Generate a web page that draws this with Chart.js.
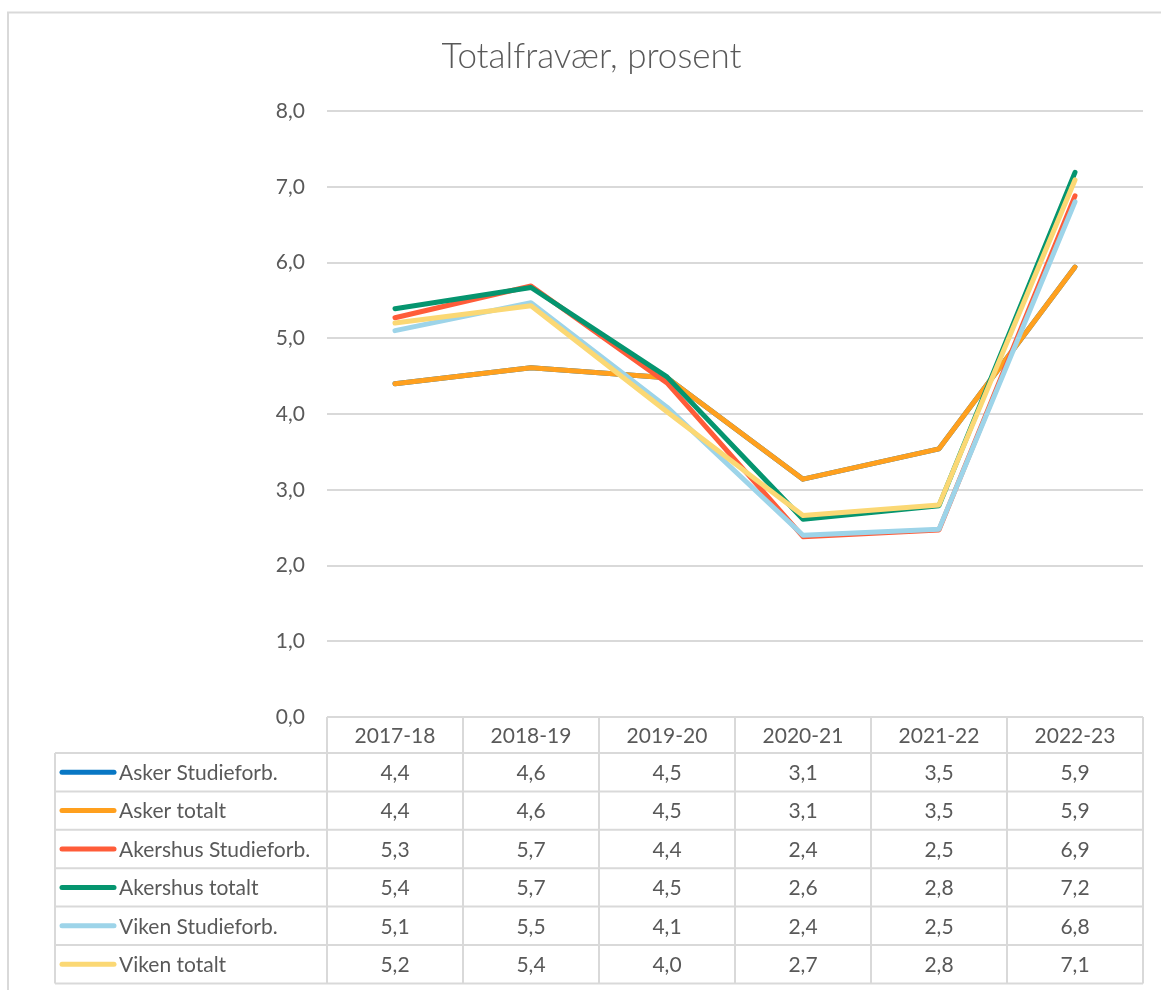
<!DOCTYPE html>
<html>
<head>
<meta charset="utf-8">
<script src="https://cdn.jsdelivr.net/npm/chart.js@4/dist/chart.umd.min.js"></script>
<style>
html, body { margin: 0; padding: 0; background: #ffffff; }
#wrap { width: 1161px; height: 990px; position: relative; }
</style>
</head>
<body>
<div id="wrap"><canvas id="c" width="1161" height="990"></canvas></div>
<script>
// ---- data ----
const categories = ['2017-18', '2018-19', '2019-20', '2020-21', '2021-22', '2022-23'];
const seriesNames = ['Asker Studieforb.', 'Asker totalt', 'Akershus Studieforb.', 'Akershus totalt', 'Viken Studieforb.', 'Viken totalt'];
const askerStudieforb = [4.40, 4.61, 4.48, 3.14, 3.54, 5.94];
const askerTotalt     = [4.40, 4.61, 4.48, 3.14, 3.54, 5.94];
const akershusStudieforb = [5.27, 5.69, 4.41, 2.38, 2.47, 6.88];
const akershusTotalt  = [5.39, 5.67, 4.49, 2.61, 2.79, 7.19];
const vikenStudieforb = [5.10, 5.47, 4.09, 2.40, 2.48, 6.80];
const vikenTotalt     = [5.20, 5.43, 4.03, 2.66, 2.80, 7.09];
const yTicks = [0, 1, 2, 3, 4, 5, 6, 7, 8];

// ---- styles ----
const seriesColors = ['#0877C4', '#FFA01E', '#FF5C39', '#05956F', '#9DD4E9', '#FBD874'];
const seriesValues = [askerStudieforb, askerTotalt, akershusStudieforb, akershusTotalt, vikenStudieforb, vikenTotalt];
const textColor = '#595959';
const lineGray = '#d9d9d9';
const fontFamily = 'Lato, "Open Sans", sans-serif';
const fmt = v => v.toFixed(1).replace('.', ',');

const datasets = seriesNames.map((name, i) => ({
  label: name,
  data: seriesValues[i],
  borderColor: seriesColors[i],
  backgroundColor: seriesColors[i],
  borderWidth: 5,
  pointRadius: 0,
  tension: 0,
  borderCapStyle: 'round',
  borderJoinStyle: 'round',
  order: seriesNames.length - i
}));

const frameAndTable = {
  id: 'frameAndTable',
  beforeDraw(chart) {
    const ctx = chart.ctx;
    ctx.save();
    ctx.fillStyle = '#ffffff';
    ctx.fillRect(0, 0, chart.width, chart.height);
    ctx.strokeStyle = lineGray;
    ctx.lineWidth = 2;
    ctx.strokeRect(8, 12.5, chart.width + 20, chart.height + 20);
    ctx.restore();
  },
  afterDraw(chart) {
    const ctx = chart.ctx;
    const xs = chart.scales.x;
    const area = chart.chartArea;
    const n = categories.length;
    const colW = (area.right - area.left) / n;
    const top = area.bottom;
    const headerH = 36;
    const rowH = 38.4;
    const tableLeft = 55;
    const rowsTop = top + headerH;
    const tableBottom = rowsTop + rowH * seriesNames.length;

    ctx.save();
    ctx.strokeStyle = lineGray;
    ctx.lineWidth = 2;
    ctx.beginPath();
    ctx.moveTo(area.left, top); ctx.lineTo(area.right, top);
    for (let r = 0; r <= seriesNames.length; r++) {
      const y = rowsTop + r * rowH;
      ctx.moveTo(tableLeft, y); ctx.lineTo(area.right, y);
    }
    for (let c = 0; c <= n; c++) {
      const x = c < n ? xs.getPixelForValue(c) - colW / 2 : xs.getPixelForValue(n - 1) + colW / 2;
      ctx.moveTo(x, top); ctx.lineTo(x, tableBottom);
    }
    ctx.moveTo(tableLeft, rowsTop); ctx.lineTo(tableLeft, tableBottom);
    ctx.stroke();

    ctx.fillStyle = textColor;
    ctx.font = '21px ' + fontFamily;
    ctx.textAlign = 'center';
    ctx.textBaseline = 'middle';
    categories.forEach((cat, c) => {
      ctx.fillText(cat, xs.getPixelForValue(c), top + headerH / 2 + 1);
    });
    seriesNames.forEach((name, r) => {
      const cy = rowsTop + r * rowH + rowH / 2 + 1;
      seriesValues[r].forEach((v, c) => {
        ctx.textAlign = 'center';
        ctx.fillText(fmt(v), xs.getPixelForValue(c), cy);
      });
      ctx.strokeStyle = seriesColors[r];
      ctx.lineWidth = 5;
      ctx.lineCap = 'round';
      ctx.beginPath();
      ctx.moveTo(62, cy - 1); ctx.lineTo(114, cy - 1);
      ctx.stroke();
      ctx.textAlign = 'left';
      ctx.fillText(name, 119, cy);
    });
    ctx.restore();
  }
};

new Chart(document.getElementById('c'), {
  type: 'line',
  data: { labels: categories, datasets },
  options: {
    responsive: false,
    animation: false,
    devicePixelRatio: 1,
    layout: { padding: { left: 40, right: 18, top: 0, bottom: 273 } },
    plugins: {
      legend: { display: false },
      tooltip: { enabled: false },
      title: {
        display: true,
        text: 'Totalfravær, prosent',
        color: textColor,
        font: { family: fontFamily, size: 35, weight: '300', lineHeight: 1.2 },
        padding: { top: 36, bottom: 33 }
      }
    },
    scales: {
      x: { display: false, offset: true },
      y: {
        min: yTicks[0],
        max: yTicks[yTicks.length - 1],
        afterBuildTicks: s => { s.ticks = yTicks.map(v => ({ value: v })); },
        afterFit: s => { s.width = 287; },
        border: { display: false },
        grid: { color: lineGray, lineWidth: 2, drawTicks: false },
        ticks: {
          padding: 22,
          color: textColor,
          font: { family: fontFamily, size: 21 },
          callback: v => fmt(v)
        }
      }
    }
  },
  plugins: [frameAndTable]
});
</script>
</body>
</html>
